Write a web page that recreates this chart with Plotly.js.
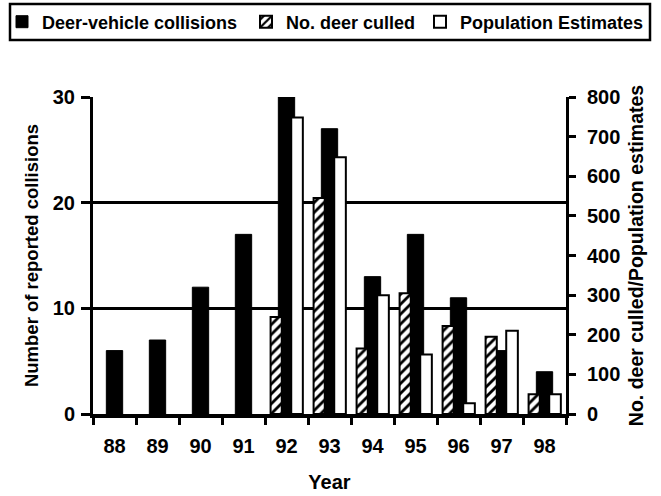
<!DOCTYPE html>
<html>
<head>
<meta charset="utf-8">
<script src="https://cdn.plot.ly/plotly-3.0.1.min.js"></script>
<style>html,body{margin:0;padding:0;background:#fff;}#chart{width:661px;height:496px;}</style>
</head>
<body>
<div id="chart"></div>
<script>
const years = ['88','89','90','91','92','93','94','95','96','97','98'];
const collisions = [6, 7, 12, 17, 30, 27, 13, 17, 11, 6, 4];
const culled = [null, null, null, null, 245, 545, 165, 305, 222, 195, 50];
const population = [null, null, null, null, 748, 648, 300, 150, 27, 210, 50];

const F = 'Liberation Sans, Arial, sans-serif';
const W = 661, H = 496;
const M = {l: 93, r: 95, t: 97, b: 82};
const PW = W - M.l - M.r, PH = H - M.t - M.b;
const px2paperX = px => (px - M.l) / PW;
const px2paperY = py => (H - M.b - py) / PH;

const traces = [
  {
    type: 'bar', name: 'Deer-vehicle collisions', x: years, y: collisions, yaxis: 'y',
    legend: 'legend',
    width: 0.38, offset: -0.19,
    marker: {color: '#000', line: {color: '#000', width: 1}}
  },
  {
    type: 'bar', name: 'No. deer culled', x: years, y: culled, yaxis: 'y2',
    legend: 'legend2',
    width: 0.26, offset: -0.37,
    marker: {color: '#fff', line: {color: '#000', width: 2},
      pattern: {shape: '/', fgcolor: '#000', bgcolor: '#fff', size: 7, solidity: 0.4}}
  },
  {
    type: 'bar', name: 'Population Estimates', x: years, y: population, yaxis: 'y2',
    legend: 'legend3',
    width: 0.27, offset: 0.11,
    marker: {color: '#fff', line: {color: '#000', width: 2}}
  }
];

function legendAt(px) {
  return {
    orientation: 'h', xref: 'container', yref: 'container',
    x: px / W, y: 1 - 22 / H, xanchor: 'left', yanchor: 'middle',
    borderwidth: 0, bgcolor: 'rgba(0,0,0,0)',
    font: {family: F, size: 18, weight: 'bold', color: '#000'},
    itemwidth: 30
  };
}

const layout = {
  width: W, height: H,
  paper_bgcolor: '#fff', plot_bgcolor: '#fff',
  font: {family: F, color: '#000', size: 15, weight: 'bold'},
  margin: M,
  barmode: 'overlay',
  showlegend: true,
  legend: legendAt(2),
  legend2: legendAt(246),
  legend3: legendAt(420),
  shapes: [
    {type: 'rect', xref: 'paper', yref: 'paper',
     x0: px2paperX(10), x1: px2paperX(650), y0: px2paperY(40), y1: px2paperY(4),
     line: {color: '#000', width: 2.5}, fillcolor: 'rgba(0,0,0,0)', layer: 'above'}
  ],
  xaxis: {
    type: 'category', range: [-0.5, 10.5],
    showline: true, linecolor: '#000', linewidth: 3.5,
    ticks: 'outside', tickson: 'boundaries', ticklen: 7, tickwidth: 3, tickcolor: '#000',
    ticklabelstandoff: 11,
    tickfont: {family: F, size: 20, weight: 'bold'},
    showgrid: false, zeroline: false,
    title: {text: 'Year', font: {family: F, size: 20, weight: 'bold'}, standoff: 20}
  },
  yaxis: {
    range: [0, 30], dtick: 10, tick0: 0,
    showline: true, linecolor: '#000', linewidth: 3,
    ticks: 'outside', ticklen: 9, tickwidth: 3, tickcolor: '#000',
    ticklabelstandoff: 2,
    tickfont: {family: F, size: 20, weight: 'bold'},
    showgrid: true, gridcolor: '#000', gridwidth: 2.5,
    zeroline: false,
    title: {text: 'Number of reported collisions', font: {family: F, size: 18.5, weight: 'bold'}, standoff: 10}
  },
  yaxis2: {
    overlaying: 'y', side: 'right', anchor: 'x',
    range: [0, 800], dtick: 100, tick0: 0,
    showline: true, linecolor: '#000', linewidth: 3,
    ticks: 'outside', ticklen: 7, tickwidth: 3, tickcolor: '#000',
    ticklabelstandoff: 7,
    tickfont: {family: F, size: 20, weight: 'bold'},
    showgrid: false, zeroline: false,
    title: {text: 'No. deer culled/Population estimates', font: {family: F, size: 19.5, weight: 'bold'}, standoff: 10}
  },
  yaxis3: {
    overlaying: 'y', side: 'right', anchor: 'x',
    range: [0, 800], dtick: 100, tick0: 0,
    showline: false, ticks: 'inside', ticklen: 5, tickwidth: 3, tickcolor: '#000',
    showticklabels: false, showgrid: false, zeroline: false
  }
};

Plotly.newPlot('chart', traces, layout, {displayModeBar: false, staticPlot: true});
</script>
</body>
</html>
